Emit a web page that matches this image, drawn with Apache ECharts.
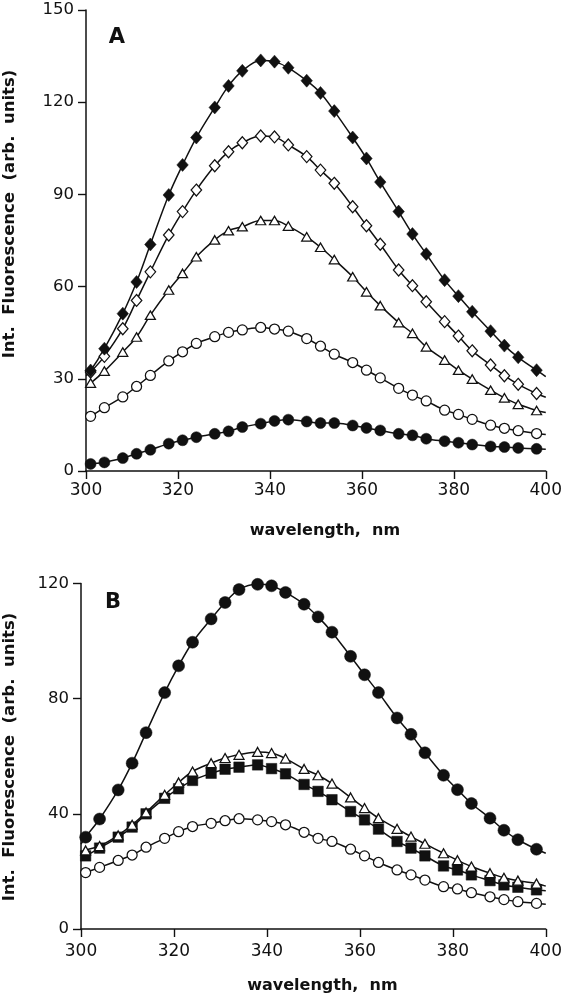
<!DOCTYPE html>
<html>
<head>
<meta charset="utf-8">
<script src="https://cdn.jsdelivr.net/npm/echarts@6/dist/echarts.min.js"></script>
<style>
  html, body { margin: 0; padding: 0; background: #fff; }
  #chart { width: 565px; height: 996px; }
</style>
</head>
<body>
<div id="chart"></div>
<script>
// ---- data (wavelength in nm) ----
var wavelengths = [301,304,308,311,314,318,321,324,328,331,334,338,341,344,348,351,354,358,361,364,368,371,374,378,381,384,388,391,394,398];

// Panel A
var aFilledDiamond = [32.7,39.8,51.2,61.5,73.7,89.8,99.6,108.5,118.3,125.3,130.2,133.6,133.2,131.2,127.0,123.0,117.1,108.5,101.7,94.0,84.4,77.1,70.6,62.1,56.9,51.8,45.5,40.8,37.0,32.8];
var aOpenDiamond   = [32.2,37.3,46.3,55.5,64.8,76.8,84.4,91.4,99.3,103.9,106.8,109.0,108.7,106.1,102.3,97.9,93.6,86.0,79.8,73.8,65.4,60.3,55.1,48.6,43.9,39.1,34.5,31.0,28.2,25.2];
var aOpenTriangle  = [28.6,32.5,38.7,43.6,50.7,58.9,64.3,69.7,75.2,78.2,79.5,81.5,81.5,79.7,76.2,72.8,68.8,63.2,58.3,53.8,48.3,44.8,40.4,36.1,32.8,29.9,26.3,23.8,21.7,19.7];
var aOpenCircle    = [17.8,20.6,24.1,27.5,31.1,35.8,38.8,41.5,43.7,45.1,45.9,46.7,46.2,45.5,43.1,40.6,38.0,35.3,32.8,30.3,26.9,24.7,22.8,19.8,18.4,16.8,14.9,13.9,13.1,12.2];
var aFilledCircle  = [2.3,2.8,4.2,5.6,6.9,8.9,10.0,11.0,12.1,12.9,14.3,15.4,16.3,16.7,16.1,15.6,15.6,14.8,14.0,13.2,12.1,11.6,10.5,9.7,9.2,8.6,8.0,7.8,7.5,7.2];
// fitted-curve values where each curve meets 300 nm and 400 nm
var aCurveStart = [31.5, 31.0, 27.6, 16.9, 1.9];
var aCurveEnd   = [30.7, 24.0, 19.0, 11.9, 7.1];

// Panel B
var bFilledCircle  = [31.9,38.2,48.3,57.6,68.2,82.1,91.4,99.6,107.7,113.4,117.9,119.7,119.2,116.9,112.8,108.4,103.1,94.7,88.3,82.1,73.3,67.6,61.2,53.4,48.4,43.6,38.5,34.3,31.0,27.7];
var bOpenTriangle  = [27.3,28.8,32.5,36.2,40.5,46.6,50.9,54.7,57.6,59.4,60.5,61.5,61.1,59.2,55.6,53.4,50.5,45.7,42.0,38.5,34.8,32.1,29.6,26.3,23.9,21.7,19.4,17.8,16.8,15.8];
var bFilledSquare  = [25.4,28.1,31.9,35.4,40.0,45.4,48.7,51.6,54.1,55.5,56.2,57.0,55.7,53.9,50.2,47.8,44.9,40.8,37.9,34.7,30.4,28.1,25.4,21.9,20.5,18.8,16.8,15.3,14.5,13.6];
var bOpenCircle    = [19.6,21.4,23.8,25.7,28.4,31.5,33.8,35.6,36.7,37.6,38.3,37.9,37.3,36.2,33.6,31.5,30.4,27.7,25.4,23.1,20.5,18.8,17.0,14.7,13.9,12.6,11.2,10.2,9.5,8.9];
var bCurveStart = [29.5, 26.0, 25.0, 19.0];
var bCurveEnd   = [26.3, 14.9, 13.3, 8.6];

// axis ticks
var xMin = 300, xMax = 400, xStep = 20;
var aYMax = 150, aYStep = 30;
var bYMax = 120, bYStep = 40;

var yTitle = 'Int.  Fluorescence  (arb.  units)';
var xTitle = 'wavelength,  nm';

// ---- build ----
var FONT = 'DejaVu Sans';
var INK = '#111';

function pts(vals) {
  return wavelengths.map(function (w, i) { return [w, vals[i]]; });
}
function curve(vals, s, e) {
  return [[xMin, s]].concat(pts(vals)).concat([[xMax, e]]);
}
function lineSeries(idx, vals, s, e) {
  return {
    type: 'line', xAxisIndex: idx, yAxisIndex: idx,
    data: curve(vals, s, e), smooth: 0.35, showSymbol: false, symbol: 'none',
    lineStyle: { color: INK, width: 1.5 }, silent: true, z: 2
  };
}
function markSeries(idx, vals, symbol, size, filled, z) {
  return {
    type: 'scatter', xAxisIndex: idx, yAxisIndex: idx,
    data: pts(vals), symbol: symbol, symbolSize: size, silent: true, z: z || 3,
    itemStyle: { color: filled ? INK : '#fff', borderColor: INK, borderWidth: filled ? 0.5 : 1.25, opacity: 1 }
  };
}
function xAxis(idx, gridIdx, labelMargin, nameGap) {
  return {
    type: 'value', gridIndex: gridIdx, min: xMin, max: xMax, interval: xStep,
    axisLine: { show: true, onZero: false, lineStyle: { color: INK, width: 1.5 } },
    axisTick: { show: true, inside: false, length: 8, lineStyle: { color: INK, width: 1.4 } },
    axisLabel: { color: INK, fontFamily: FONT, fontSize: 17, margin: labelMargin },
    splitLine: { show: false },
    name: xTitle, nameLocation: 'middle', nameGap: nameGap,
    nameTextStyle: { color: INK, fontFamily: FONT, fontSize: 16, fontWeight: 'bold', padding: [0, 0, 0, 18] }
  };
}
function yAxis(gridIdx, max, step) {
  return {
    type: 'value', gridIndex: gridIdx, min: 0, max: max, interval: step,
    axisLine: { show: true, onZero: false, lineStyle: { color: INK, width: 1.5 } },
    axisTick: { show: true, inside: false, length: 8, lineStyle: { color: INK, width: 1.4 } },
    axisLabel: { color: INK, fontFamily: FONT, fontSize: 16.5, margin: 12 },
    splitLine: { show: false }
  };
}

var option = {
  animation: false,
  backgroundColor: '#fff',
  grid: [
    { left: 86, right: 17, top: 10, height: 461 },
    { left: 81, right: 17, top: 583.5, height: 345.5 }
  ],
  xAxis: [xAxis(0, 0, 11, 52), xAxis(1, 1, 14, 48.5)],
  yAxis: [yAxis(0, aYMax, aYStep), yAxis(1, bYMax, bYStep)],
  series: [
    lineSeries(0, aFilledDiamond, aCurveStart[0], aCurveEnd[0]),
    lineSeries(0, aOpenDiamond, aCurveStart[1], aCurveEnd[1]),
    lineSeries(0, aOpenTriangle, aCurveStart[2], aCurveEnd[2]),
    lineSeries(0, aOpenCircle, aCurveStart[3], aCurveEnd[3]),
    lineSeries(0, aFilledCircle, aCurveStart[4], aCurveEnd[4]),
    markSeries(0, aOpenDiamond, 'diamond', [10.5, 12], false, 3),
    markSeries(0, aFilledDiamond, 'diamond', [11.5, 13], true, 4),
    markSeries(0, aOpenTriangle, 'triangle', [10, 8.5], false, 3),
    markSeries(0, aOpenCircle, 'circle', 10, false, 3),
    markSeries(0, aFilledCircle, 'circle', 11, true, 3),

    lineSeries(1, bFilledCircle, bCurveStart[0], bCurveEnd[0]),
    lineSeries(1, bOpenTriangle, bCurveStart[1], bCurveEnd[1]),
    lineSeries(1, bFilledSquare, bCurveStart[2], bCurveEnd[2]),
    lineSeries(1, bOpenCircle, bCurveStart[3], bCurveEnd[3]),
    markSeries(1, bFilledCircle, 'circle', 12, true, 3),
    markSeries(1, bFilledSquare, 'rect', 10.5, true, 3),
    markSeries(1, bOpenTriangle, 'triangle', [10, 9], false, 4),
    markSeries(1, bOpenCircle, 'circle', 10, false, 3)
  ],
  graphic: [
    { type: 'text', x: 10, y: 214, rotation: Math.PI / 2, silent: true,
      style: { text: yTitle, fill: INK, font: 'bold 16.5px "DejaVu Sans"', textAlign: 'center', textVerticalAlign: 'middle' } },
    { type: 'text', x: 10, y: 757, rotation: Math.PI / 2, silent: true,
      style: { text: yTitle, fill: INK, font: 'bold 16.5px "DejaVu Sans"', textAlign: 'center', textVerticalAlign: 'middle' } },
    { type: 'text', x: 117, y: 38, silent: true,
      style: { text: 'A', fill: INK, font: 'bold 21px "DejaVu Sans"', textAlign: 'center', textVerticalAlign: 'middle' } },
    { type: 'text', x: 113, y: 603, silent: true,
      style: { text: 'B', fill: INK, font: 'bold 21px "DejaVu Sans"', textAlign: 'center', textVerticalAlign: 'middle' } }
  ]
};

var chart = echarts.init(document.getElementById('chart'), null, { renderer: 'canvas' });
chart.setOption(option);
</script>
</body>
</html>
